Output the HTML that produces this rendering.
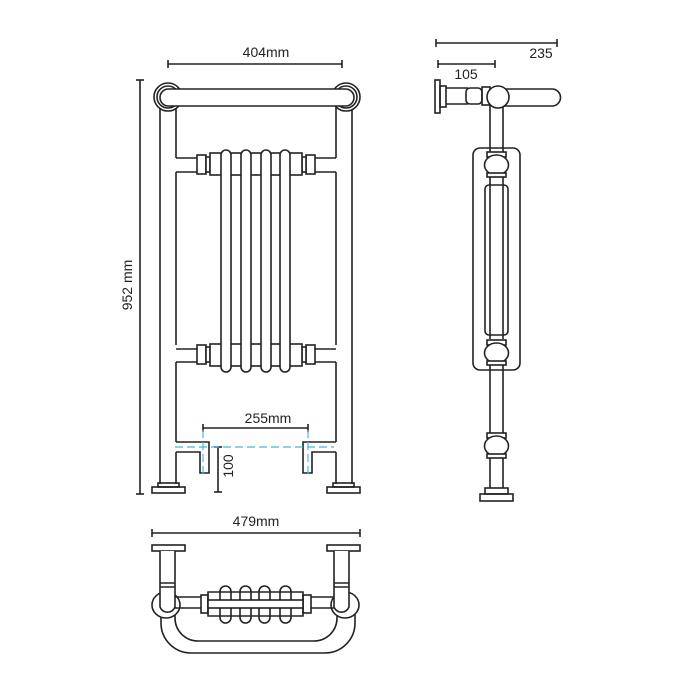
<!DOCTYPE html>
<html><head><style>
html,body{margin:0;padding:0;background:#fff}
svg{display:block}
text{font-family:"Liberation Sans",sans-serif;fill:#222}
</style></head><body>
<svg width="700" height="700" viewBox="0 0 700 700" xmlns="http://www.w3.org/2000/svg">
<g fill="none" stroke="#222" stroke-width="1.6">
<line x1="168" y1="64" x2="342" y2="64"/><line x1="168" y1="60" x2="168" y2="68"/><line x1="342" y1="60" x2="342" y2="68"/>
<line x1="140" y1="80" x2="140" y2="494"/><line x1="136" y1="80" x2="144" y2="80"/><line x1="136" y1="494" x2="144" y2="494"/>
<path d="M160 100 V484 M176 106 V158 M176 172 V345 M176 362 V442 M176 452 V484"/>
<path d="M352 100 V484 M336 106 V158 M336 172 V345 M336 362 V442 M336 452 V484"/>
<circle cx="168" cy="97" r="14" fill="#fff"/><circle cx="168" cy="97" r="11"/>
<circle cx="346" cy="97" r="14" fill="#fff"/><circle cx="346" cy="97" r="11"/>
<rect x="160" y="89" width="194" height="17" rx="8.5" fill="#fff"/>
<path d="M176 158 H197 M176 172 H197 M315 158 H336 M315 172 H336"/>
<path d="M176 349 H197 M176 362 H197 M315 349 H336 M315 362 H336"/>
<g fill="#fff">
<rect x="197" y="155" width="9" height="19"/><rect x="206" y="157" width="4" height="15"/>
<rect x="306" y="155" width="9" height="19"/><rect x="302" y="157" width="4" height="15"/>
<rect x="210" y="153" width="92" height="22"/>
<rect x="197" y="345" width="9" height="19"/><rect x="206" y="347" width="4" height="15"/>
<rect x="306" y="345" width="9" height="19"/><rect x="302" y="347" width="4" height="15"/>
<rect x="210" y="344" width="92" height="22"/>
<rect x="221" y="150" width="10" height="222" rx="5"/>
<rect x="241" y="150" width="10" height="222" rx="5"/>
<rect x="261" y="150" width="10" height="222" rx="5"/>
<rect x="280" y="150" width="10" height="222" rx="5"/>
</g>
<path d="M176 442 H209 V473 H200 V452 H176"/>
<path d="M336 442 H303 V473 H312 V452 H336"/>
<rect x="158" y="483" width="21" height="4"/><rect x="152" y="487" width="33" height="6"/>
<rect x="333" y="483" width="21" height="4"/><rect x="327" y="487" width="33" height="6"/>
<line x1="203" y1="428" x2="308" y2="428"/><line x1="203" y1="424" x2="203" y2="432"/><line x1="308" y1="424" x2="308" y2="432"/>
<line x1="218" y1="447" x2="218" y2="492"/><line x1="214" y1="447" x2="222" y2="447"/><line x1="214" y1="492" x2="222" y2="492"/>
</g>
<g stroke="#4ab8d8" stroke-width="1.2" stroke-dasharray="8,4" fill="none">
<line x1="175" y1="447" x2="334" y2="447"/>
<line x1="203" y1="430" x2="203" y2="476"/>
<line x1="308" y1="430" x2="308" y2="476"/>
</g>
<text x="266" y="57" font-size="14" text-anchor="middle">404mm</text>
<text x="268" y="423" font-size="14" text-anchor="middle">255mm</text>
<text transform="translate(132,285) rotate(-90)" font-size="14" text-anchor="middle">952 mm</text>
<text transform="translate(233,466) rotate(-90)" font-size="14" text-anchor="middle">100</text>

<g fill="none" stroke="#222" stroke-width="1.6">
<line x1="436" y1="43" x2="557" y2="43"/><line x1="436" y1="39" x2="436" y2="47"/><line x1="557" y1="39" x2="557" y2="47"/>
<line x1="438" y1="64" x2="495" y2="64"/><line x1="438" y1="60" x2="438" y2="68"/><line x1="495" y1="60" x2="495" y2="68"/>
<rect x="435" y="80" width="5" height="33"/><rect x="440" y="86" width="6" height="21"/>
<path d="M446 88 H468 M446 104 H468"/><rect x="466" y="88" width="16" height="16" rx="4"/>
<rect x="482" y="87" width="8" height="18"/>
<path d="M503 89 H552 A8.5 8.5 0 0 1 552 106 H503"/>
<rect x="473" y="148" width="47" height="222" rx="7" fill="#fff"/>
<rect x="485" y="185" width="23" height="150" rx="4"/>
<path d="M490 105 V154 M503 105 V154 M490 175 V339 M503 175 V339 M490 362 V435 M503 435 V362 M490 456 V488 M503 456 V488"/>
<circle cx="498" cy="97" r="11" fill="#fff"/>
<g fill="#fff">
<rect x="487" y="152" width="19" height="5"/><ellipse cx="496.5" cy="165" rx="12" ry="10"/><rect x="487" y="173" width="19" height="4"/>
<rect x="487" y="340" width="19" height="5"/><ellipse cx="496.5" cy="353" rx="12" ry="10"/><rect x="487" y="361" width="19" height="4"/>
<rect x="487" y="433" width="19" height="5"/><ellipse cx="496.5" cy="446" rx="12" ry="10"/><rect x="487" y="454" width="19" height="4"/>
</g>
<rect x="485" y="488" width="23" height="6"/><rect x="480" y="494" width="33" height="7"/>
</g>
<text x="541" y="58" font-size="14" text-anchor="middle">235</text>
<text x="466" y="79" font-size="14" text-anchor="middle">105</text>

<g fill="none" stroke="#222" stroke-width="1.6">
<line x1="152" y1="533" x2="360" y2="533"/><line x1="152" y1="529" x2="152" y2="537"/><line x1="360" y1="529" x2="360" y2="537"/>
<rect x="152" y="545" width="33" height="6"/><rect x="327" y="545" width="33" height="6"/>
<path d="M161 610 V623 A30 30 0 0 0 191 653 H325 A30 30 0 0 0 355 623 V610"/>
<path d="M175 613 V618 A23 23 0 0 0 198 641 H314 A23 23 0 0 0 337 618 V613"/>
<ellipse cx="166" cy="605" rx="14" ry="13" fill="#fff"/>
<ellipse cx="345" cy="605" rx="14" ry="13" fill="#fff"/>
<path d="M160 551 V607 A8 8 0 0 0 175 607 V551 M160 583 H175 M160 587 H175" fill="#fff"/>
<path d="M334 551 V607 A8 8 0 0 0 349 607 V551 M334 583 H349 M334 587 H349" fill="#fff"/>
<path d="M175 597 H201 M175 608 H201 M311 597 H334 M311 608 H334"/>
<g fill="#fff">
<rect x="201" y="595" width="7" height="18"/><rect x="303" y="595" width="8" height="18"/>
<rect x="220" y="586" width="11" height="37" rx="5.5"/>
<rect x="240" y="586" width="11" height="37" rx="5.5"/>
<rect x="259" y="586" width="11" height="37" rx="5.5"/>
<rect x="280" y="586" width="11" height="37" rx="5.5"/>
</g>
<path d="M208 592 H303 V616 H208 Z"/>
<rect x="208" y="600" width="95" height="8" fill="#fff"/>
</g>
<text x="256" y="526" font-size="14" text-anchor="middle">479mm</text>
</svg>
</body></html>
